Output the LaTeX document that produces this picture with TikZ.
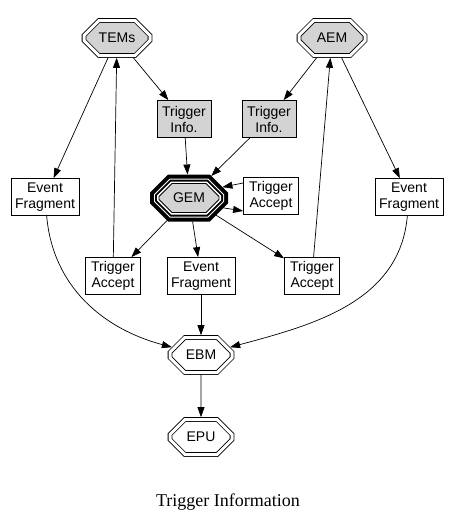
\documentclass[tikz,border=0pt]{standalone}
\usepackage{fontspec}
\setmainfont{Liberation Serif}
\newfontfamily\helvfont{Liberation Sans}
\usetikzlibrary{arrows.meta,shapes.misc}
\definecolor{nodegray}{HTML}{D3D3D3}
\tikzset{
  dbloct/.style={chamfered rectangle,draw=black,line width=0.8pt,
                 double=white,double distance=3pt,outer sep=2.3pt,
                 minimum width=66pt,minimum height=35pt,inner sep=0pt,
                 chamfered rectangle xsep=8pt,chamfered rectangle ysep=10pt,
                 font=\helvfont\fontsize{14}{16}\selectfont},
  tripoct/.style={chamfered rectangle,draw=black,line width=0.8pt,fill=nodegray,
                  preaction={draw=black,line width=18pt},
                  preaction={draw=white,line width=10pt},
                  preaction={draw=black,line width=8pt},
                  preaction={draw=white,line width=4pt},
                  outer sep=9pt,minimum width=60pt,minimum height=29pt,inner sep=0pt,
                  chamfered rectangle xsep=7pt,chamfered rectangle ysep=8pt,
                  font=\helvfont\fontsize{14}{16}\selectfont},
  plainbox/.style={rectangle,draw=black,line width=0.8pt,fill=white,
                   minimum width=55pt,minimum height=37pt,inner xsep=4pt,
                   align=center,font=\helvfont\fontsize{14}{16}\selectfont},
  infobox/.style={plainbox,fill=nodegray,minimum width=54pt},
  arr/.style={-{Triangle[length=10pt,width=7pt]},line width=0.7pt}
}
\begin{document}
\begin{tikzpicture}[x=1pt,y=-1pt]
  \useasboundingbox[fill=white] (0,0) rectangle (452,525);
  % sources at the top
  \node[dbloct,fill=nodegray] (tems) at (117,38) {TEMs};
  \node[dbloct,fill=nodegray] (aem) at (332,38) {AEM};
  \node[infobox] (infoL) at (184,119) {Trigger\\Info.};
  \node[infobox] (infoR) at (269,119) {Trigger\\Info.};
  % global event manager
  \node[tripoct] (gem) at (189,198) {GEM};
  \node[plainbox] (accR) at (271,196) {Trigger\\Accept};
  \node[plainbox] (fragL) at (45,197) {Event\\Fragment};
  \node[plainbox] (fragR) at (409,197) {Event\\Fragment};
  \node[plainbox] (accL) at (113,276) {Trigger\\Accept};
  \node[plainbox] (fragM) at (201,276) {Event\\Fragment};
  \node[plainbox] (accM) at (312,276) {Trigger\\Accept};
  % builder and processing unit
  \node[dbloct,minimum width=62pt] (ebm) at (201,355) {EBM};
  \node[dbloct,minimum width=62pt] (epu) at (201,437) {EPU};
  \node[font=\fontsize{18}{20}\selectfont] (caption) at (228,502) {Trigger Information};

  % connectors
  \draw[arr] (tems) -- (infoL);
  \draw[arr] (tems) -- (fragL);
  \draw[arr] (accL) -- (tems);
  \draw[arr] (aem) -- (infoR);
  \draw[arr] (aem) -- (fragR);
  \draw[arr] (accM) -- (aem);
  \draw[arr] (infoL) -- (gem);
  \draw[arr] (infoR) -- (gem);
  \draw[arr] ([yshift=13pt]accR.west) -- (gem.18);
  \draw[arr] (gem.-16) -- ([yshift=-15pt]accR.west);
  \draw[arr] (gem) -- (accL);
  \draw[arr] (gem) -- (fragM);
  \draw[arr] (gem) -- (accM);
  \draw[arr] (fragL) to[out=-85,in=165] (ebm);
  \draw[arr] (fragM) -- (ebm);
  \draw[arr] (fragR) to[out=-95,in=15] (ebm);
  \draw[arr] (ebm) -- (epu);
\end{tikzpicture}
\end{document}
